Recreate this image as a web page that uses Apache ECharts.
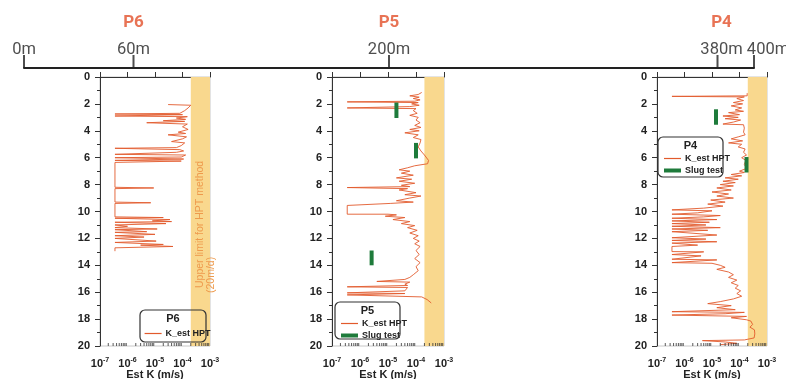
<!DOCTYPE html>
<html>
<head>
<meta charset="utf-8">
<script src="https://cdn.jsdelivr.net/npm/echarts@6/dist/echarts.min.js"></script>
<style>
html, body { margin: 0; background: #fff; }
#chart { width: 786px; height: 379px; }
</style>
</head>
<body>
<div id="chart"></div>
<script>
// distances along the transect (m) and the wells located on it
var siteDist = [0, 60, 200, 380, 400];
var siteName = ['', 'P6', 'P5', 'P4', ''];

// HPT estimated K profiles: [K (m/s), depth (m)]
var kP6 = [[3e-5,2.05],[2e-4,2.1],[1.6e-4,2.3],[1.2e-4,2.5],[8e-5,2.7],[3.5e-7,2.75],[1e-4,2.8],[3.5e-7,2.9],[1.5e-4,2.95],[6e-5,3.05],[1.3e-4,3.15],[2e-5,3.25],[1.2e-4,3.3],[5e-6,3.4],[1.5e-4,3.5],[1e-4,3.7],[1.6e-4,3.9],[7e-5,4.1],[1.3e-4,4.2],[3e-5,4.3],[1.4e-4,4.45],[1e-4,4.6],[4e-5,4.8],[1.2e-4,4.9],[9e-5,5.1],[6e-5,5.25],[3.5e-7,5.3],[8e-5,5.4],[1.1e-4,5.5],[6e-5,5.6],[3.5e-7,5.75],[1.3e-4,5.8],[9e-5,5.95],[3.5e-7,6.0],[1.1e-4,6.1],[3.5e-7,6.2],[9e-5,6.25],[3.5e-7,6.35],[3.5e-7,8.2],[9e-6,8.25],[3.5e-7,8.3],[3.5e-7,9.3],[7e-6,9.35],[3.5e-7,9.4],[3.5e-7,10.4],[2e-5,10.45],[3.5e-7,10.5],[3.5e-5,10.6],[8e-6,10.7],[4e-5,10.75],[3.5e-7,10.8],[2.5e-5,10.9],[3.5e-7,11.0],[1e-6,11.1],[3.5e-7,11.2],[1.2e-5,11.3],[3.5e-7,11.35],[5e-6,11.5],[3.5e-7,11.55],[1e-5,11.7],[3.5e-7,11.8],[4e-6,11.9],[3.5e-7,12.0],[1.1e-5,12.2],[3.5e-7,12.3],[2e-5,12.45],[3e-6,12.5],[4.5e-5,12.6],[3.5e-7,12.7],[3.5e-7,12.95]];

var kP5 = [[1.6e-4,1.15],[1.2e-4,1.3],[6e-5,1.4],[1.3e-4,1.5],[8e-5,1.6],[1.4e-4,1.7],[9e-5,1.8],[3.5e-7,1.85],[1.2e-4,1.9],[7e-5,2.0],[1.3e-4,2.1],[6e-5,2.2],[3.5e-7,2.3],[1e-4,2.35],[8e-5,2.5],[1.1e-4,2.7],[6e-5,2.85],[1.2e-4,3.0],[1e-4,3.2],[1.4e-4,3.4],[9e-5,3.6],[1.5e-4,3.75],[6e-5,3.9],[1.3e-4,4.0],[4e-5,4.15],[1.2e-4,4.3],[8e-5,4.5],[1.5e-4,4.65],[1.4e-4,4.9],[1.2e-4,5.2],[1.5e-4,5.5],[2e-4,5.8],[2.8e-4,6.2],[2.6e-4,6.45],[9e-5,6.6],[5e-5,6.75],[2.5e-5,6.9],[6e-5,7.0],[3e-5,7.15],[8e-5,7.3],[2e-5,7.5],[7e-5,7.6],[2.5e-5,7.75],[9e-5,7.9],[3e-5,8.05],[6e-5,8.15],[3.5e-7,8.22],[5e-5,8.3],[2.5e-5,8.4],[1e-4,8.6],[4e-5,8.75],[1.5e-4,8.85],[6e-5,9.0],[2e-5,9.2],[8e-5,9.3],[1.2e-5,9.4],[3.5e-7,9.55],[3.5e-7,10.2],[1e-5,10.2],[2e-5,10.25],[8e-6,10.35],[4e-5,10.45],[1.5e-5,10.6],[6e-5,10.75],[3e-5,10.9],[9e-5,11.05],[5e-5,11.2],[1.1e-4,11.4],[6e-5,11.6],[1.2e-4,11.8],[8e-5,12.0],[1.3e-4,12.2],[9e-5,12.4],[1.4e-4,12.6],[1e-4,12.9],[1.3e-4,13.2],[9e-5,13.5],[1.4e-4,13.8],[1e-4,14.1],[1.2e-4,14.4],[8e-5,14.7],[6e-5,14.9],[4e-5,15.05],[4e-6,15.2],[6e-5,15.25],[4e-5,15.4],[5e-5,15.5],[3.5e-7,15.6],[5e-5,15.65],[4e-5,15.9],[3.5e-7,16.05],[4e-5,16.1],[3.5e-7,16.2],[1.6e-4,16.35],[2.5e-4,16.55],[3.5e-4,16.8]];

var kP4 = [[1.9e-4,1.2],[1.9e-4,1.4],[3.5e-7,1.44],[1.5e-4,1.48],[8e-5,1.6],[1.4e-4,1.75],[6e-5,1.9],[1.3e-4,2.0],[5e-5,2.15],[1.2e-4,2.3],[7e-5,2.45],[1.4e-4,2.55],[4e-5,2.65],[1e-4,2.8],[2.5e-5,2.9],[9e-5,3.0],[3e-5,3.1],[1.1e-4,3.2],[6e-5,3.35],[2.5e-5,3.5],[1.4e-4,3.55],[1.5e-4,3.8],[1.4e-4,4.1],[1.6e-4,4.3],[9e-5,4.45],[5e-5,4.6],[1.3e-4,4.75],[4e-5,4.9],[1.2e-4,5.0],[9e-5,5.2],[1.6e-4,5.35],[1.4e-4,5.6],[1.8e-4,5.8],[1.2e-4,6.0],[1.7e-4,6.2],[1.5e-4,6.5],[1.8e-4,6.8],[1e-4,7.0],[1.5e-4,7.1],[5e-5,7.25],[1.2e-4,7.35],[3e-5,7.5],[9e-5,7.6],[2.5e-5,7.75],[7e-5,7.85],[2e-5,8.0],[6e-5,8.1],[1.5e-5,8.25],[5e-5,8.4],[1e-5,8.55],[4e-5,8.7],[1.5e-5,8.85],[6e-5,9.0],[9e-6,9.15],[3e-5,9.3],[7e-6,9.45],[2.5e-5,9.6],[5e-6,9.75],[3.5e-7,9.88],[1e-5,9.95],[3e-6,10.1],[3.5e-7,10.2],[2e-5,10.3],[5e-6,10.4],[3.5e-7,10.5],[1.5e-5,10.6],[3.5e-7,10.7],[8e-6,10.8],[3.5e-7,10.9],[6e-6,11.0],[3.5e-7,11.1],[2e-5,11.2],[3.5e-7,11.3],[7e-6,11.4],[3.5e-7,11.5],[1.5e-5,11.75],[3.5e-7,11.95],[6e-6,12.05],[3.5e-7,12.15],[1.5e-5,12.25],[3.5e-7,12.35],[3e-6,12.5],[3.5e-7,12.6],[3.5e-7,12.98],[5e-6,13.0],[3.5e-7,13.2],[4e-6,13.3],[3.5e-7,13.55],[1.5e-5,13.6],[3.5e-7,13.8],[1e-5,13.85],[2e-5,14.0],[3e-5,14.15],[1.5e-5,14.3],[4e-5,14.5],[6e-5,14.7],[4e-5,14.9],[8e-5,15.1],[5e-5,15.3],[9e-5,15.5],[7e-5,15.7],[1.1e-4,15.9],[8e-5,16.1],[1.2e-4,16.3],[6e-5,16.5],[2e-5,16.7],[7e-6,16.85],[5e-5,17.0],[1.5e-5,17.15],[7e-5,17.3],[3.5e-7,17.45],[1.5e-4,17.5],[3e-5,17.6],[3.5e-7,17.7],[1.8e-4,17.8],[5e-5,17.9],[1.8e-4,18.05],[2.6e-4,18.15],[3e-4,18.4],[2.4e-4,18.6],[3.5e-4,18.8],[3.6e-4,19.1],[3.4e-4,19.4],[1.5e-4,19.55],[4.5e-6,19.6],[3e-5,19.7],[8e-5,19.8],[2e-5,19.9]];

// slug tests: [K (m/s), depth top, depth bottom]
var slugP6 = [];
var slugP5 = [[2e-5,1.9,3.05],[1e-4,4.9,6.05],[2.6e-6,12.9,14.0]];
var slugP4 = [[1.4e-5,2.4,3.55],[1.8e-4,5.95,7.1]];

// upper limit for the HPT method (m/s)
var hptLimit = [2e-4, 1e-3];

var kColor = '#e25a2c';
var slugColor = '#1e7b3b';
var txt = '#222';

var panels = [
    {name: 'P6', left: 100, width: 110, k: kP6, slug: slugP6, box: [140, 310, 66, 32], legendTop: 329},
    {name: 'P5', left: 332, width: 112, k: kP5, slug: slugP5, box: [335, 302, 65, 37], legendTop: 319},
    {name: 'P4', left: 657, width: 110, k: kP4, slug: slugP4, box: [658, 137, 65, 40], legendTop: 154}
];

// minor tick positions for the log axis (2..9 x each decade)
var minorK = [];
for (var d = -7; d < -3; d++) {
    for (var m = 2; m < 10; m++) minorK.push([m * Math.pow(10, d), 20]);
}

function supLabel(v) {
    var e = Math.round(Math.log(v) / Math.LN10);
    return '{b|10}{s|' + e + '}';
}

var grid = [], xAxis = [], yAxis = [], series = [], legend = [], graphic = [];

panels.forEach(function (p, i) {
    grid.push({left: p.left, width: p.width, top: 77, height: 269, outerBoundsMode: 'none',
        show: true, borderColor: '#c8c8c8', borderWidth: 1});
    xAxis.push({
        gridIndex: i, type: 'log', logBase: 10, min: 1e-7, max: 1e-3,
        axisLine: {lineStyle: {color: '#333'}},
        axisTick: {inside: true, length: 5, lineStyle: {color: '#333'}},
        splitLine: {show: false},
        axisLabel: {
            margin: 11, formatter: supLabel,
            rich: {
                b: {fontSize: 11, fontWeight: 'bold', color: txt, fontFamily: 'Liberation Sans', lineHeight: 14},
                s: {fontSize: 7, fontWeight: 'bold', color: txt, fontFamily: 'Liberation Sans', verticalAlign: 'top', lineHeight: 8}
            }
        },
        name: 'Est K (m/s)', nameLocation: 'middle', nameGap: 23, nameMoveOverlap: false,
        nameTextStyle: {fontSize: 11, fontWeight: 'bold', color: txt, fontFamily: 'Liberation Sans'}
    });
    yAxis.push({
        gridIndex: i, type: 'value', inverse: true, min: 0, max: 20, interval: 2,
        axisLine: {show: true, lineStyle: {color: '#333'}},
        axisTick: {show: true, length: 5, lineStyle: {color: '#333'}},
        minorTick: {show: true, splitNumber: 2, length: 3, lineStyle: {color: '#333'}},
        splitLine: {show: false},
        axisLabel: {fontSize: 11, fontWeight: 'bold', color: txt, fontFamily: 'Liberation Sans', margin: 10}
    });

    series.push({
        name: 'K_est HPT', type: 'line', xAxisIndex: i, yAxisIndex: i,
        data: p.k, symbol: 'none', z: 3,
        lineStyle: {color: kColor, width: 0.9},
        itemStyle: {color: kColor},
        markArea: {
            silent: true,
            itemStyle: {color: '#f9d88e'},
            data: [[{xAxis: hptLimit[0]}, {xAxis: hptLimit[1]}]]
        }
    });
    p.slug.forEach(function (s) {
        series.push({
            name: 'Slug test', type: 'line', xAxisIndex: i, yAxisIndex: i,
            data: [[s[0], s[1]], [s[0], s[2]]], symbol: 'none', z: 4,
            lineStyle: {color: slugColor, width: 4},
            itemStyle: {color: slugColor}
        });
    });
    series.push({
        type: 'scatter', xAxisIndex: i, yAxisIndex: i, data: minorK,
        symbol: 'rect', symbolSize: [1, 3], symbolOffset: [0, '-50%'],
        itemStyle: {color: '#333'}, silent: true, clip: false, z: 5
    });

    var items = [{name: 'K_est HPT', lineStyle: {width: 1.2}}];
    if (p.slug.length) items.push({name: 'Slug test', lineStyle: {width: 4}});
    legend.push({
        left: p.box[0] + 4, top: p.legendTop, orient: 'vertical',
        itemWidth: 17, itemHeight: 8, itemGap: 3, padding: 0,
        itemStyle: {color: 'transparent', borderColor: 'transparent', borderWidth: 0, opacity: 0},
        data: items,
        textStyle: {fontSize: 9, fontWeight: 'bold', color: txt, fontFamily: 'Liberation Sans', padding: [0, 0, 0, -1]}
    });
    graphic.push({
        type: 'rect', silent: true, z: 10,
        shape: {x: p.box[0], y: p.box[1], width: p.box[2], height: p.box[3], r: 5},
        style: {fill: 'none', stroke: '#333', lineWidth: 1.2}
    });
    graphic.push({
        type: 'text', silent: true, z: 10,
        x: p.box[0] + p.box[2] / 2, y: p.box[1] + 9,
        style: {text: p.name, fontSize: 11, fontWeight: 'bold', fill: txt, fontFamily: 'Liberation Sans',
            align: 'center', verticalAlign: 'middle'}
    });
});

// note written inside the HPT limit band of P6
graphic.push({
    type: 'text', silent: true, z: 10, x: 200, y: 288, rotation: Math.PI / 2,
    style: {text: 'Upper limit for HPT method', fontSize: 10.5, fill: '#ee9a4c', fontFamily: 'Liberation Sans',
        align: 'left', verticalAlign: 'middle'}
});
graphic.push({
    type: 'text', silent: true, z: 10, x: 211, y: 293, rotation: Math.PI / 2,
    style: {text: '(20m/d)', fontSize: 10.5, fill: '#ee9a4c', fontFamily: 'Liberation Sans',
        align: 'left', verticalAlign: 'middle'}
});

// transect distance axis on top
grid.push({left: 24, width: 730, top: 10, height: 58, outerBoundsMode: 'none'});
xAxis.push({
    gridIndex: 3, type: 'value', min: 0, max: 400,
    axisLine: {lineStyle: {color: '#222', width: 2}},
    axisTick: {show: false}, axisLabel: {show: false}, splitLine: {show: false}
});
yAxis.push({gridIndex: 3, type: 'value', min: 0, max: 1, show: false});

var labelShift = [0, 0, 0, 4, 14];
series.push({
    type: 'scatter', xAxisIndex: 3, yAxisIndex: 3, silent: true, clip: false,
    symbol: 'rect', symbolSize: [2, 13], symbolOffset: [0, '-50%'],
    itemStyle: {color: '#222'},
    data: siteDist.map(function (v, i) {
        return {
            value: [v, 0],
            label: {
                offset: [labelShift[i], 0],
                formatter: (siteName[i] ? '{p|' + siteName[i] + '}\n' : '') + '{d|' + v + 'm}'
            }
        };
    }),
    label: {
        show: true, position: 'top', distance: -5,
        rich: {
            p: {fontSize: 17, fontWeight: 'bold', color: '#e2502a', fontFamily: 'Roboto', lineHeight: 34},
            d: {fontSize: 16.5, color: txt, fontFamily: 'Roboto', lineHeight: 20}
        }
    }
});

var option = {
    backgroundColor: '#fff',
    animation: false,
    grid: grid,
    xAxis: xAxis,
    yAxis: yAxis,
    legend: legend,
    graphic: graphic,
    series: series
};

var myChart = echarts.init(document.getElementById('chart'));
myChart.setOption(option);
</script>
</body>
</html>
